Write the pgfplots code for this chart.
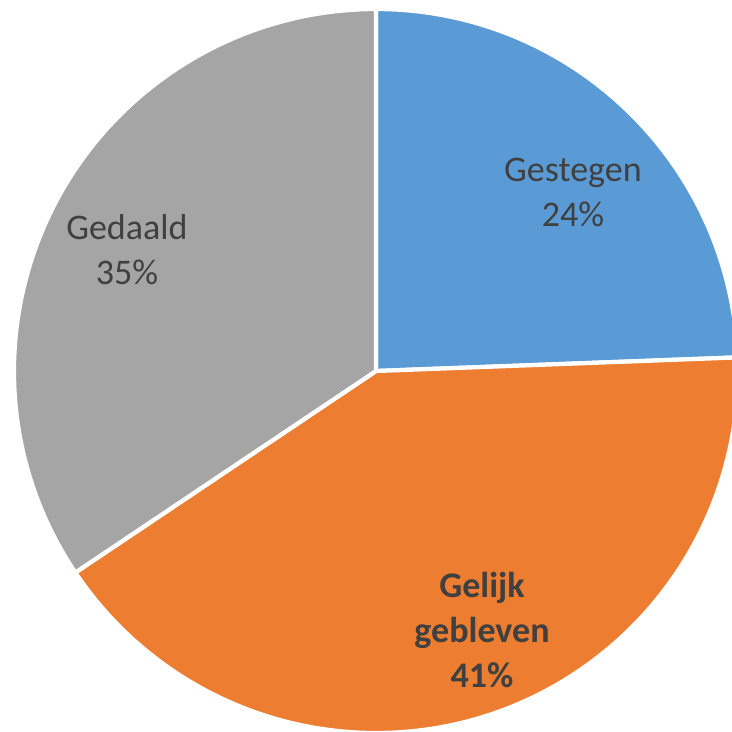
\documentclass[border=0pt]{standalone}
\usepackage{pgfplots}
\pgfplotsset{compat=1.18}
\usepackage{fontspec}
\setmainfont{Carlito}
\definecolor{pieblue}{HTML}{5B9BD5}
\definecolor{pieorange}{HTML}{ED7D31}
\definecolor{piegray}{HTML}{A5A5A5}
\definecolor{labelgray}{HTML}{404040}
% shares in percent
\def\vA{24.4}% Gestegen
\def\vB{41.2}% Gelijk gebleven
\def\vC{34.4}% Gedaald
\begin{document}
\begin{tikzpicture}
\pgfmathsetmacro\aA{90-3.6*\vA}
\pgfmathsetmacro\aB{\aA-3.6*\vB}
\pgfmathsetmacro\aC{\aB-3.6*\vC}
\begin{axis}[
  x=3cm, y=3cm,
  xmin=-1.0387, xmax=0.9834,
  ymin=-0.9972, ymax=1.0249,
  hide axis, clip=true,
  clip bounding box=upper bound,
]
\fill[pieblue, draw=white, line width=1pt, line join=round]
  (axis cs:0,0) -- (axis cs:0,1) arc[start angle=90, end angle=\aA, radius=3cm] -- cycle;
\fill[pieorange, draw=white, line width=1pt, line join=round]
  (axis cs:0,0) -- (axis cs:{cos(\aA)},{sin(\aA)}) arc[start angle=\aA, end angle=\aB, radius=3cm] -- cycle;
\fill[piegray, draw=white, line width=1pt, line join=round]
  (axis cs:0,0) -- (axis cs:{cos(\aB)},{sin(\aB)}) arc[start angle=\aB, end angle=\aC, radius=3cm] -- cycle;
\node[align=center, text=labelgray, font=\fontsize{8.5}{10.6}\selectfont] at (axis cs:0.544,0.494) {Gestegen\\24\%};
\node[align=center, text=labelgray, font=\fontsize{8.5}{10.6}\selectfont] at (axis cs:-0.688,0.334) {Gedaald\\35\%};
\node[align=center, text=labelgray, font=\fontsize{8.5}{10.6}\selectfont\bfseries] at (axis cs:0.293,-0.715) {Gelijk\\gebleven\\41\%};
\end{axis}
\pgfresetboundingbox
\useasboundingbox (current axis.south west) rectangle (current axis.north east);
\end{tikzpicture}
\end{document}
